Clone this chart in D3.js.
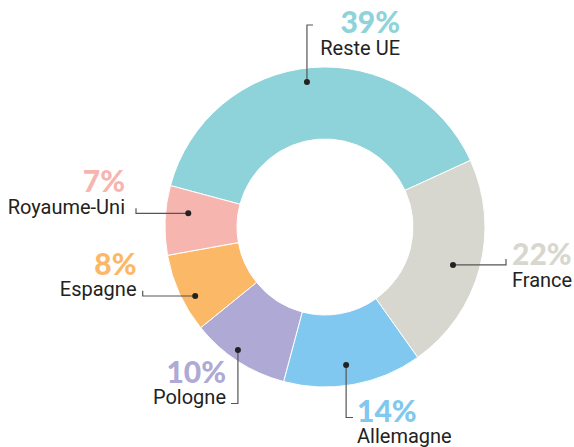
<!DOCTYPE html>
<html><head><meta charset="utf-8">
<script src="https://cdn.jsdelivr.net/npm/d3@7"></script>
<style>html,body{margin:0;padding:0;background:#fff}svg{display:block}</style>
</head><body>
<svg id="c" width="574" height="447"></svg>
<script>
const categories = ["Reste UE", "France", "Allemagne", "Pologne", "Espagne", "Royaume-Uni"];
const values = [39, 22, 14, 10, 8, 7];
const colors = ["#8fd3da", "#d8d7cf", "#80c8ef", "#afa9d5", "#fbb967", "#f7b5b0"];

// label layout: text anchor point, alignment, leader elbow, dot radius / angle offset (deg)
const layout = [
  {tx: 400, ty: 33, anchor: "end", leader: "v", end: [313, 25], dr: 146, da: -2.3},
  {tx: 512, ty: 265, anchor: "start", leader: "h", end: [506, 259], dr: 133.5, da: 1.5},
  {tx: 357, ty: 421.5, anchor: "start", leader: "v", end: [353, 417.5], dr: 139.6, da: 1.5},
  {tx: 226, ty: 382.5, anchor: "end", leader: "v", end: [231, 403.5], dr: 150.7, da: 2.3},
  {tx: 136.5, ty: 274.5, anchor: "end", leader: "h", end: [142.7, 290.7], dr: 147, da: -3.4},
  {tx: 125, ty: 192.3, anchor: "end", leader: "h", end: [136, 208.3], dr: 137.4, da: 3.3}
];

const svg = d3.select("#c");
const cx = 325, cy = 227, R = 160, r = 88;
const g = svg.append("g").attr("transform", `translate(${cx},${cy})`);
const pie = d3.pie().sort(null).value(d => d).startAngle(-75 * Math.PI / 180).endAngle(285 * Math.PI / 180);
const arcs = pie(values);
const arc = d3.arc().innerRadius(r).outerRadius(R);

g.selectAll("path.slice").data(arcs).enter().append("path")
  .attr("d", arc).attr("fill", (d, i) => colors[i])
  .attr("stroke", "#fff").attr("stroke-width", 1);

arcs.forEach((d, i) => {
  const L = layout[i];
  const a = (d.startAngle + d.endAngle) / 2 + L.da * Math.PI / 180;
  const px = cx + L.dr * Math.sin(a), py = cy - L.dr * Math.cos(a);
  let pts;
  if (L.leader === "v") pts = [[px, py], [px, L.end[1]], [L.end[0], L.end[1]]];
  else pts = [[px, py], [L.end[0], py], [L.end[0], L.end[1]]];
  svg.append("path").attr("d", d3.line()(pts)).attr("fill", "none")
    .attr("stroke", "#555").attr("stroke-width", 1.2);
  svg.append("circle").attr("cx", px).attr("cy", py).attr("r", 3).attr("fill", "#222");
  svg.append("text").attr("x", L.tx).attr("y", L.ty).attr("text-anchor", L.anchor)
    .attr("font-family", "Lato, 'Open Sans', sans-serif").attr("font-weight", 900)
    .attr("font-size", 30).attr("fill", colors[i]).text(values[i] + "%");
  svg.append("text").attr("x", L.tx).attr("y", L.ty + 21.5).attr("text-anchor", L.anchor)
    .attr("font-family", "Roboto, sans-serif").attr("font-size", 20)
    .attr("fill", "#222").text(categories[i]);
});
</script>
</body></html>
